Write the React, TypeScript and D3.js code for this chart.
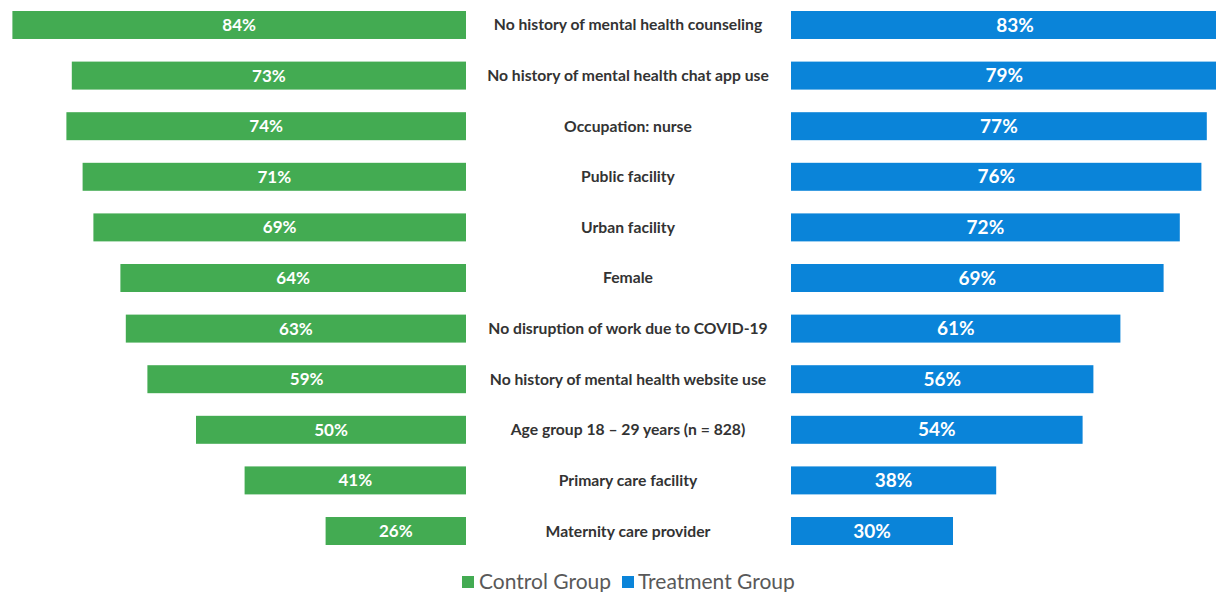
import * as d3 from "d3";

const categories = [
  "No history of mental health counseling",
  "No history of mental health chat app use",
  "Occupation: nurse",
  "Public facility",
  "Urban facility",
  "Female",
  "No disruption of work due to COVID-19",
  "No history of mental health website use",
  "Age group 18 – 29 years (n = 828)",
  "Primary care facility",
  "Maternity care provider",
];
const controlValues = [84, 73, 74, 71, 69, 64, 63, 59, 50, 41, 26];
const treatmentValues = [83, 79, 77, 76, 72, 69, 61, 56, 54, 38, 30];
const seriesNames = ["Control Group", "Treatment Group"];

const W = 1216;
const H = 592;
const GREEN = "#43AB52";
const BLUE = "#0A84D9";
const FONT = "Lato, 'Open Sans', sans-serif";

export default function App() {
  const leftEdge = 466; // right end of control bars
  const rightEdge = 791; // start of treatment bars
  const labelX = 628;

  const len = d3.scaleLinear().domain([0, 100]).range([0, 540]);
  const y = d3.scaleBand<string>().domain(categories).range([11, 545]).paddingInner(0.447).paddingOuter(0);
  const bw = y.bandwidth();

  return (
    <svg
      width={W}
      height={H}
      style={{ position: "absolute", left: 0, top: 0, background: "#fff" }}
      fontFamily={FONT}
    >
      {categories.map((c, i) => {
        const y0 = y(c)!;
        const cy = y0 + bw / 2;
        const lw = len(controlValues[i]);
        const rw = len(treatmentValues[i]);
        const rEnd = Math.min(rightEdge + rw, W);
        return (
          <g key={c}>
            <rect x={leftEdge - lw} y={y0} width={lw} height={bw} fill={GREEN} />
            <text
              x={leftEdge - lw / 2}
              y={cy}
              dy="0.35em"
              textAnchor="middle"
              fill="#fff"
              fontWeight="bold"
              fontSize={17}
            >
              {controlValues[i]}%
            </text>
            <text
              x={labelX}
              y={cy}
              dy="0.35em"
              textAnchor="middle"
              fill="#333"
              fontWeight="bold"
              fontSize={15.7}
            >
              {c}
            </text>
            <rect x={rightEdge} y={y0} width={rEnd - rightEdge} height={bw} fill={BLUE} />
            <text
              x={rightEdge + rw / 2}
              y={cy}
              dy="0.35em"
              textAnchor="middle"
              fill="#fff"
              fontWeight="bold"
              fontSize={19}
            >
              {treatmentValues[i]}%
            </text>
          </g>
        );
      })}
      <g transform="translate(0,582)">
        <rect x={462} y={-6} width={12} height={12} fill={GREEN} />
        <text x={479} y={0} dy="0.35em" fill="#595959" fontSize={21}>
          {seriesNames[0]}
        </text>
        <rect x={622} y={-6} width={12} height={12} fill={BLUE} />
        <text x={638} y={0} dy="0.35em" fill="#595959" fontSize={21}>
          {seriesNames[1]}
        </text>
      </g>
    </svg>
  );
}
